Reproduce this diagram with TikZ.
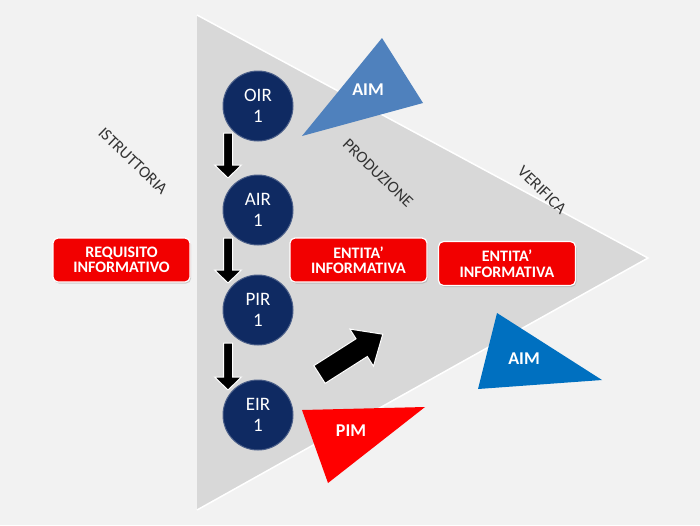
\documentclass[tikz,border=0pt]{standalone}
\usepackage{fontspec}
\setmainfont{Carlito}
\usetikzlibrary{shadows}
\definecolor{bg}{HTML}{F2F2F2}
\definecolor{tri}{HTML}{D8D8D8}
\definecolor{navy}{HTML}{0F2A62}
\definecolor{boxred}{HTML}{F20000}
\definecolor{pimred}{HTML}{FF0000}
\definecolor{aimlight}{HTML}{4F81BD}
\definecolor{aimdark}{HTML}{0070C0}
\tikzset{
  circ/.style={circle, fill=navy, draw=navy!75!white, line width=1pt, minimum size=70pt, inner sep=0pt,
    text=white, align=center, font=\fontsize{19}{21.5}\selectfont},
  redbox/.style={rounded corners=5pt, fill=boxred, draw=white, line width=1.2pt,
    minimum width=137pt, minimum height=44pt, inner sep=0pt, text=white, align=center,
    font=\bfseries\fontsize{16}{15.5}\selectfont, drop shadow={shadow xshift=1pt, shadow yshift=-1.5pt, opacity=0.35}},
  trilabel/.style={text=white, font=\bfseries\fontsize{18}{20}\selectfont},
  phase/.style={text=black!80, rotate=-44, font=\fontsize{16.5}{18}\selectfont},
  blockarrow/.style={fill=black, draw=white, line width=1pt},
}
\begin{document}
\begin{tikzpicture}[x=1pt,y=-1pt]
\fill[bg] (0,0) rectangle (700,525);
\useasboundingbox (0,0) rectangle (700,525);
% main triangle
\fill[tri] (197,15) -- (648,258) -- (197,510) -- cycle;
\draw[white, line width=1.5pt] (197,15) -- (648,258) -- (197,510);
% phase labels
\node[phase] (istr) at (133,161) {ISTRUTTORIA};
\node[phase] (prod) at (378,173) {PRODUZIONE};
\node[phase] (verif) at (542,190) {VERIFICA};
% AIM top triangle
\fill[aimlight] (382,38) -- (423,103) -- (302,136) -- cycle;
\node[trilabel] (aim1) at (368,90) {AIM};
% AIM bottom triangle
\fill[aimdark] (497,313) -- (602,380) -- (478,389) -- cycle;
\node[trilabel] (aim2) at (524,359) {AIM};
% PIM triangle
\fill[pimred] (302,410) -- (425,407) -- (328,483) -- cycle;
\node[trilabel] (pim) at (351,431) {PIM};
% circles
\node[circ] (oir) at (258,106) {OIR\\1};
\node[circ] (air) at (258,210) {AIR\\1};
\node[circ] (pir) at (258,310) {PIR\\1};
\node[circ] (eir) at (258,415) {EIR\\1};
% down arrows
\foreach \t/\b in {133/178, 238/283, 343/390}{
  \draw[blockarrow] (223.5,\t) -- (232.5,\t) -- (232.5,\b-13) -- (241.5,\b-13) -- (228,\b)
    -- (214.5,\b-13) -- (223.5,\b-13) -- cycle;
}
% diagonal arrow
\begin{scope}[shift={(319.5,374.5)}, rotate=32.5]
  \draw[blockarrow] (0,-10.5) -- (50,-10.5) -- (50,-22) -- (75,0) -- (50,22) -- (50,10.5) -- (0,10.5) -- cycle;
\end{scope}
% red boxes
\node[redbox] (req) at (121.5,260) {REQUISITO\\INFORMATIVO};
\node[redbox] (ent1) at (358.5,260) {ENTITA’\\INFORMATIVA};
\node[redbox] (ent2) at (507,263.5) {ENTITA’\\INFORMATIVA};
\end{tikzpicture}
\end{document}
